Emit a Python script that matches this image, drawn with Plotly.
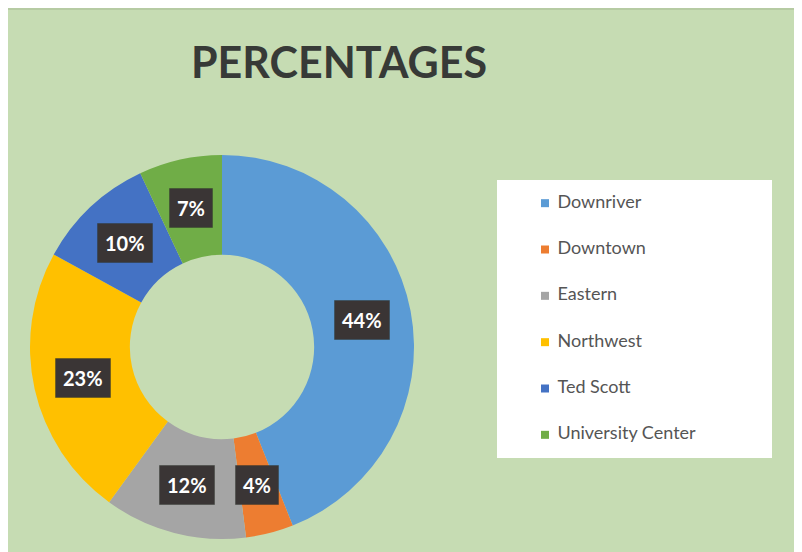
import math
import plotly.graph_objects as go

campuses = ["Downriver", "Downtown", "Eastern", "Northwest", "Ted Scott", "University Center"]
percentages = [44, 4, 12, 23, 10, 7]
colors = ["#5B9BD5", "#ED7D31", "#A5A5A5", "#FFC000", "#4472C4", "#70AD47"]

W, H = 802, 552
BG = "#c6dcb3"

# donut placement (figure pixels)
cx, cy, R = 214, 339, 192
hole = 0.48

fig = go.Figure()

fig.add_trace(go.Pie(
    labels=campuses,
    values=percentages,
    marker=dict(colors=colors, line=dict(width=0)),
    hole=hole,
    sort=False,
    direction="clockwise",
    rotation=0,
    textinfo="none",
    hoverinfo="label+percent",
    showlegend=False,
    domain=dict(x=[(cx - R) / W, (cx + R) / W], y=[(H - cy - R) / H, (H - cy + R) / H]),
))

# data labels in dark boxes at the middle of each slice
total = sum(percentages)
r_mid = R * (1 + hole) / 2
start = 0
for name, v in zip(campuses, percentages):
    ang = math.radians((start + v / 2) / total * 360)
    start += v
    lx = cx + r_mid * math.sin(ang)
    ly = cy - r_mid * math.cos(ang)
    fig.add_annotation(
        x=lx / W, y=1 - ly / H, xref="paper", yref="paper",
        xanchor="center", yanchor="middle",
        text=f"{round(v / total * 100)}%", showarrow=False,
        font=dict(family="Lato", size=20, color="white", weight="bold"),
        bgcolor="#3a3535", bordercolor="rgba(40,50,40,0.35)", borderwidth=1, borderpad=7,
    )

# legend drawn on a hidden axis
leg_x0, leg_x1, leg_y0, leg_y1 = 489, 764, 172, 450
fig.add_trace(go.Scatter(
    x=[0] * len(campuses),
    y=list(range(len(campuses))),
    mode="markers",
    marker=dict(symbol="square", size=8, color=colors),
    cliponaxis=False,
    hoverinfo="skip",
    showlegend=False,
))
fig.add_trace(go.Scatter(
    x=[0.55] * len(campuses),
    y=list(range(len(campuses))),
    mode="text",
    text=campuses,
    textposition="middle right",
    textfont=dict(family="Lato", size=18, color="#555555"),
    cliponaxis=False,
    hoverinfo="skip",
    showlegend=False,
))

fig.update_layout(
    width=W, height=H,
    margin=dict(l=0, r=0, t=0, b=0),
    paper_bgcolor=BG,
    plot_bgcolor="rgba(0,0,0,0)",
    xaxis=dict(domain=[537 / W, leg_x1 / W], range=[0, 10], visible=False, fixedrange=True),
    yaxis=dict(domain=[1 - leg_y1 / H, 1 - leg_y0 / H], range=[5.5, -0.5], visible=False, fixedrange=True),
    shapes=[
        dict(type="line", xref="paper", yref="paper", x0=0, x1=1, y0=1 - 1 / H, y1=1 - 1 / H,
             line=dict(color="#b6cba3", width=2), layer="below"),
        dict(type="rect", xref="paper", yref="paper", x0=leg_x0 / W, x1=leg_x1 / W,
             y0=1 - leg_y1 / H, y1=1 - leg_y0 / H, fillcolor="white", line=dict(width=0), layer="below"),
    ],
    annotations=list(fig.layout.annotations) + [
        dict(text="PERCENTAGES", x=331 / W, y=1 - 54 / H, xref="paper", yref="paper",
             xanchor="center", yanchor="middle", showarrow=False,
             font=dict(family="Lato", size=43, color="#373a37", weight="bold")),
    ],
)

fig.write_html("out.html")
